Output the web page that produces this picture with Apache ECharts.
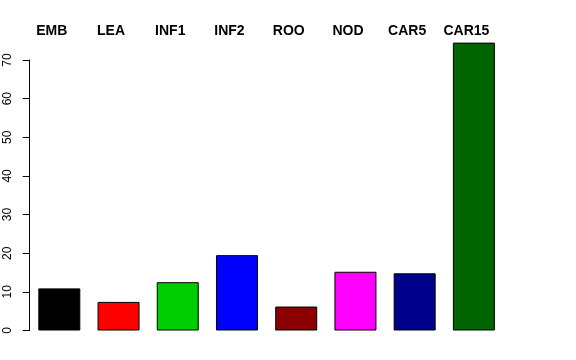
<!DOCTYPE html>
<html><head><meta charset="utf-8">
<script src="https://cdn.jsdelivr.net/npm/echarts@6/dist/echarts.min.js"></script>
<style>html,body{margin:0;padding:0;background:#fff}#c{width:576px;height:360px}</style>
</head><body><div id="c"></div>
<script>
const categories = ["EMB","LEA","INF1","INF2","ROO","NOD","CAR5","CAR15"];
const values = [10.9, 7.4, 12.5, 19.5, 6.2, 15.2, 14.8, 74.5];
const colors = ["#000000","#FF0000","#00CD00","#0000FF","#8B0000","#FF00FF","#00008B","#006400"];
const yTicks = [0,10,20,30,40,50,60,70];

const chart = echarts.init(document.getElementById('c'), null, {renderer:'canvas'});
chart.setOption({
  animation:false,
  backgroundColor:'#ffffff',
  grid:{left:29.7, top:60, width:473.8, bottom:29.5, containLabel:false},
  xAxis:{
    type:'category', data:categories, position:'top',
    axisLine:{show:false}, axisTick:{show:false},
    axisLabel:{fontFamily:'Liberation Sans', fontWeight:'bold', fontSize:14, color:'#000', margin:22, padding:[0,15,0,0], interval:0}
  },
  yAxis:{
    type:'value', min:yTicks[0], max:yTicks[yTicks.length-1], interval:10,
    axisLine:{show:true, lineStyle:{color:'#000', width:1}},
    axisTick:{show:true, length:7, lineStyle:{color:'#000'}},
    splitLine:{show:false},
    axisLabel:{fontFamily:'Liberation Sans', fontSize:12, color:'#000', rotate:90, margin:16}
  },
  series:[{
    type:'bar', clip:false, barWidth:42,
    data: values.map((v,i)=>({value:v, itemStyle:{color:colors[i]}})),
    itemStyle:{borderColor:'#000', borderWidth:1}
  }]
});
</script></body></html>
